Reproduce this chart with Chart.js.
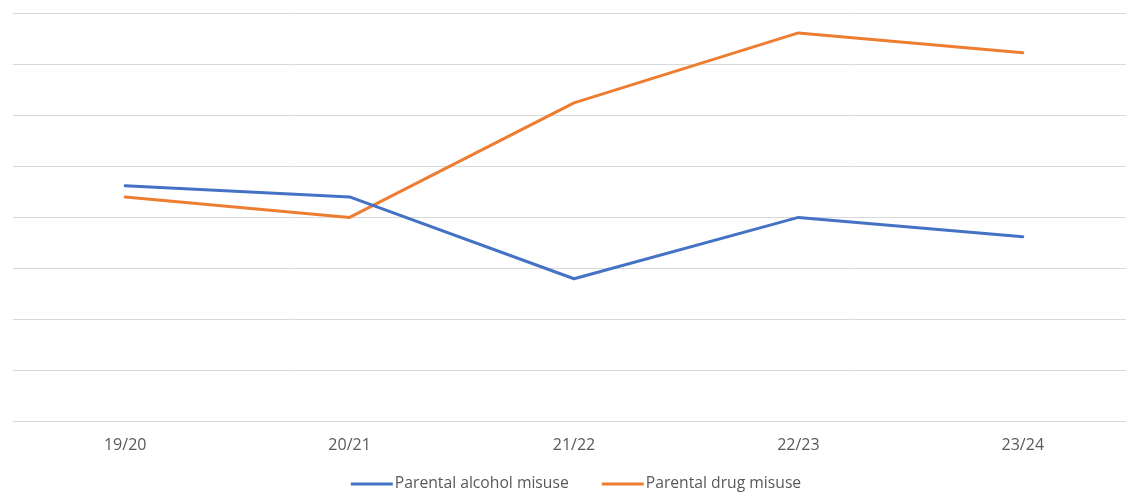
<!DOCTYPE html>
<html>
<head>
<meta charset="utf-8">
<script src="https://cdn.jsdelivr.net/npm/chart.js@4/dist/chart.umd.min.js"></script>
<style>
  html, body { margin: 0; padding: 0; background: #ffffff; overflow: hidden; }
  #wrap { position: relative; width: 1150px; height: 493px; }
</style>
</head>
<body>
<div id="wrap"><canvas id="c" width="1150" height="493"></canvas></div>
<script>
const categories = ["19/20", "20/21", "21/22", "22/23", "23/24"];
const alcoholMisuse = [4.62, 4.40, 2.80, 4.00, 3.62];
const drugMisuse = [4.40, 4.00, 6.24, 7.61, 7.22];
const seriesNames = ["Parental alcohol misuse", "Parental drug misuse"];

const LEGEND_FONT = "15.7px 'Open Sans'";
const TEXT_COLOR = '#595959';

// Legend drawn from the chart's own datasets, laid out like the original (line swatch directly before text)
const lineLegend = {
  id: 'lineLegend',
  afterDraw(chart) {
    const c = chart.ctx;
    const swatch = 42, gap = 2, itemGap = 33, y = 484;
    c.save();
    c.font = LEGEND_FONT;
    c.textBaseline = 'middle';
    const items = chart.data.datasets.map(ds => ({ ds, w: swatch + gap + c.measureText(ds.label).width }));
    const total = items.reduce((s, it) => s + it.w, 0) + itemGap * (items.length - 1);
    let x = chart.width / 2 - total / 2 + 1;
    items.forEach(it => {
      c.fillStyle = it.ds.borderColor;
      c.fillRect(x, y - 1.5, swatch, 3);
      c.fillStyle = TEXT_COLOR;
      c.textAlign = 'left';
      c.fillText(it.ds.label, x + swatch + gap, y);
      x += it.w + itemGap;
    });
    c.restore();
  }
};

const ctx = document.getElementById('c').getContext('2d');
new Chart(ctx, {
  type: 'line',
  data: {
    labels: categories,
    datasets: [
      { label: seriesNames[0], data: alcoholMisuse, borderColor: '#4472C4', backgroundColor: '#4472C4',
        borderWidth: 3, pointRadius: 0, tension: 0, borderJoinStyle: 'round', borderCapStyle: 'round' },
      { label: seriesNames[1], data: drugMisuse, borderColor: '#ED7D31', backgroundColor: '#ED7D31',
        borderWidth: 3, pointRadius: 0, tension: 0, borderJoinStyle: 'round', borderCapStyle: 'round' }
    ]
  },
  options: {
    responsive: false,
    animation: false,
    devicePixelRatio: 1,
    layout: { padding: { top: 13, left: 13, right: 15, bottom: 32 } },
    plugins: {
      tooltip: { enabled: false },
      legend: { display: false }
    },
    scales: {
      x: {
        offset: true,
        grid: { display: false },
        border: { display: true, color: '#d9d9d9', width: 1 },
        ticks: { color: TEXT_COLOR, font: { family: 'Open Sans', size: 16 }, padding: 6, maxRotation: 0 }
      },
      y: {
        min: 0, max: 8,
        ticks: { display: false, stepSize: 1 },
        grid: { color: '#d9d9d9', lineWidth: 1, drawTicks: false },
        border: { display: false }
      }
    }
  },
  plugins: [lineLegend]
});
</script>
</body>
</html>
